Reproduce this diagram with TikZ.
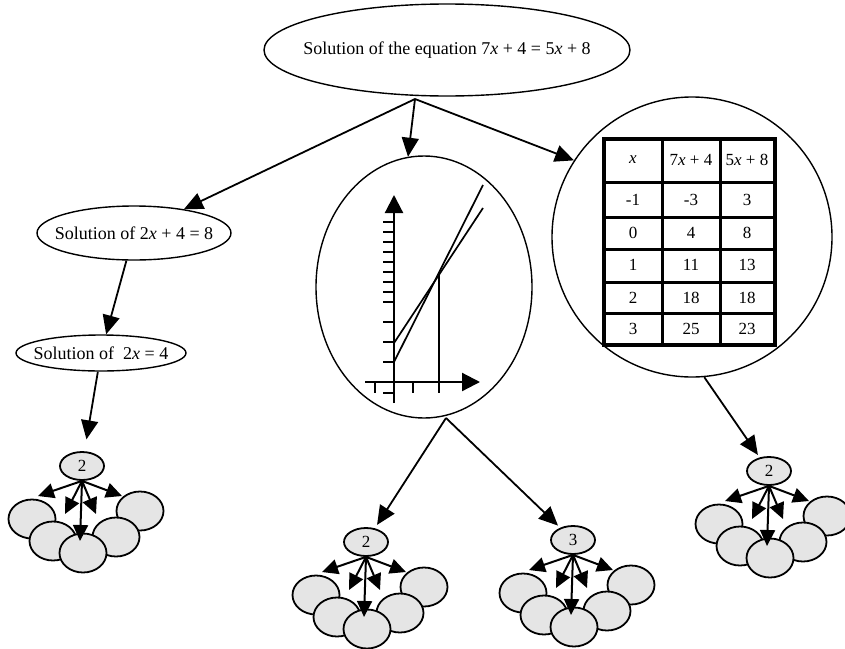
\documentclass[tikz,border=0pt]{standalone}
\usepackage{fontspec}
\setmainfont{Liberation Serif}
\usetikzlibrary{arrows.meta,shapes.geometric}

\newcommand{\vx}{\textit{x}}
% one group: small numbered ellipse fanning out to five grey ones
\newcommand{\leafgroup}[3]{%
  \begin{scope}[shift={#2}]
    \node[leaf] (#1e1) at (-50,53) {};
    \node[leaf] (#1e2) at (-29,75) {};
    \node[leaf] (#1e5) at (58,45) {};
    \node[leaf] (#1e4) at (34,71) {};
    \node[leaf] (#1e3) at (1,87) {};
    \node[knot] (#1) at (0,0) {#3};
    \coordinate (#1t1) at (-44,30);
    \coordinate (#1t2) at (-17,48);
    \coordinate (#1t3) at (-2,75);
    \coordinate (#1t4) at (14,48);
    \coordinate (#1t5) at (40,30);
    \foreach \i in {1,...,5}
      \draw[fan] (#1.south) -- (#1t\i);
  \end{scope}}

\begin{document}
\begin{tikzpicture}[x=1pt,y=-1pt,
    every node/.style={inner sep=0pt},
    oval/.style={draw, ellipse, line width=1.4pt},
    words/.style={font=\fontsize{18}{21}\selectfont},
    leaf/.style={draw, ellipse, fill=black!10, line width=1.8pt, minimum width=47, minimum height=39},
    knot/.style={draw, ellipse, fill=black!10, line width=1.8pt, minimum width=44, minimum height=28, font=\fontsize{17}{19}\selectfont},
    fan/.style={-{Triangle[length=16pt,width=15pt]}, line width=2pt},
    flow/.style={-{Triangle[length=19pt,width=17pt]}, line width=1.8pt},
    axis/.style={-{Triangle[length=18pt,width=18pt]}, line width=2.2pt},
    cell/.style={font=\fontsize{17}{20}\selectfont}]
  \useasboundingbox (0,0) rectangle (845,648);

  % question and the three ways
  \node[oval, minimum width=366, minimum height=92] (eq) at (447,50) {};
  \node[words] (eqtext) at (eq) {Solution of the equation 7\vx{} + 4 = 5\vx{} + 8};
  \node[oval, minimum width=194, minimum height=54] (sol1) at (134,233) {};
  \node[words] (sol1text) at (sol1) {Solution of 2\vx{} + 4 = 8};
  \node[oval, minimum width=170, minimum height=36] (sol2) at (101,353) {};
  \node[words] (sol2text) at (sol2) {Solution of\ \ 2\vx{} = 4};
  \node[oval, minimum width=216, minimum height=262] (graph) at (424,287) {};
  \node[draw, circle, line width=1.4pt, minimum size=280] (tabc) at (692,237) {};

  % graph
  \draw[axis] (394,403) -- (394,195);
  \draw[axis] (365,382) -- (480,382);
  \foreach \yy in {222,232,242,252,262,272,282,292,302,322,342,362,393}
    \draw[line width=2.2pt] (383,\yy) -- (394,\yy);
  \foreach \xx in {375,413}
    \draw[line width=2.2pt] (\xx,382) -- (\xx,393);
  \draw[line width=2pt] (439,273) -- (439,393);
  \draw[line width=1.7pt] (394,362) -- (483,185);
  \draw[line width=1.7pt] (394,343) -- (483,208);

  % table
  \draw[line width=4.5pt] (604,139) rectangle (775,345);
  \foreach \xx in {662,720}
    \draw[line width=3pt] (\xx,139) -- (\xx,345);
  \foreach \yy in {182,217,249,282,313}
    \draw[line width=3pt] (604,\yy) -- (775,\yy);
  \node[cell] (h1) at (633,160) {\vx};
  \node[cell] (h2) at (691,160) {7\vx{} + 4};
  \node[cell] (h3) at (747,160) {5\vx{} + 8};
  \foreach \yy/\a/\b/\c [count=\r] in {200/-1/-3/3, 233/0/4/8, 265/1/11/13, 298/2/18/18, 329/3/25/23} {
    \node[cell] (r\r a) at (633,\yy) {\a};
    \node[cell] (r\r b) at (691,\yy) {\b};
    \node[cell] (r\r c) at (747,\yy) {\c};
  }

  % groups
  \leafgroup{ca}{(82,466)}{2}
  \leafgroup{cb}{(366,542)}{2}
  \leafgroup{cc}{(573,540)}{3}
  \leafgroup{cd}{(769,471)}{2}

  % connectors
  \coordinate (hub) at (415,99);
  \coordinate (gfoot) at (446,418);
  \draw[flow] (hub) -- (sol1);
  \draw[flow] (hub) -- (graph.97);
  \draw[flow] (hub) -- (tabc.147);
  \draw[flow] (sol1) -- (sol2);
  \draw[flow, shorten >=12pt] (sol2) -- (ca);
  \draw[flow, shorten >=4pt] (gfoot) -- (cb);
  \draw[flow, shorten >=3pt] (gfoot) -- (cc);
  \draw[flow, shorten >=3pt] (tabc.275) -- (cd);
\end{tikzpicture}
\end{document}
